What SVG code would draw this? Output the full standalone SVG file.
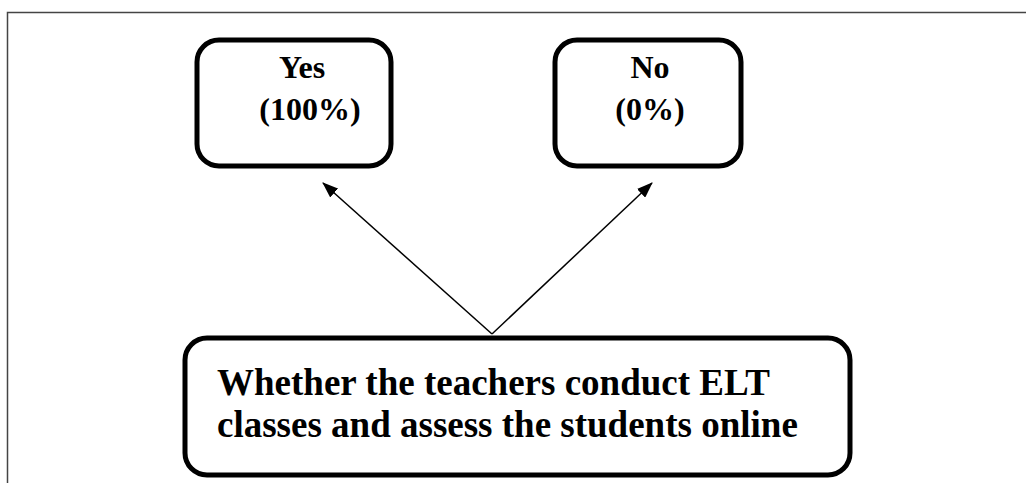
<svg xmlns="http://www.w3.org/2000/svg" width="1026" height="483" viewBox="0 0 1026 483">
<defs>
<marker id="ah" markerWidth="16" markerHeight="12" refX="15" refY="6" orient="auto" markerUnits="userSpaceOnUse">
<path d="M0,0 L16,6 L0,12 Z" fill="#000"/>
</marker>
<style>
.box{fill:#fff;stroke:#000;stroke-width:5}
.t{font-family:"Liberation Serif","Times New Roman",serif;font-weight:bold;fill:#000}
.s{font-size:32px;text-anchor:middle}
.b{font-size:37px}
.c{stroke:#000;stroke-width:1.5;fill:none}
</style>
</defs>
<rect width="1026" height="483" fill="#fff"/>
<path d="M7.5,483 L7.5,12.5 L1026,12.5" fill="none" stroke="#444" stroke-width="1.5"/>
<g id="connectors">
<line class="c" x1="492" y1="334" x2="323" y2="183" marker-end="url(#ah)"/>
<line class="c" x1="492" y1="334" x2="652" y2="183" marker-end="url(#ah)"/>
</g>
<g id="yes">
<rect class="box" x="197" y="40" width="194" height="126" rx="22"/>
<text class="t s" x="302" y="78">Yes</text>
<text class="t s" x="310" y="120">(100%)</text>
</g>
<g id="no">
<rect class="box" x="555" y="40" width="186" height="126" rx="22"/>
<text class="t s" x="650" y="78">No</text>
<text class="t s" x="650" y="120">(0%)</text>
</g>
<g id="question">
<rect class="box" x="185" y="338" width="665" height="137" rx="22"/>
<text class="t b" x="217" y="395">Whether the teachers conduct ELT</text>
<text class="t b" x="217" y="437">classes and assess the students online</text>
</g>
</svg>
